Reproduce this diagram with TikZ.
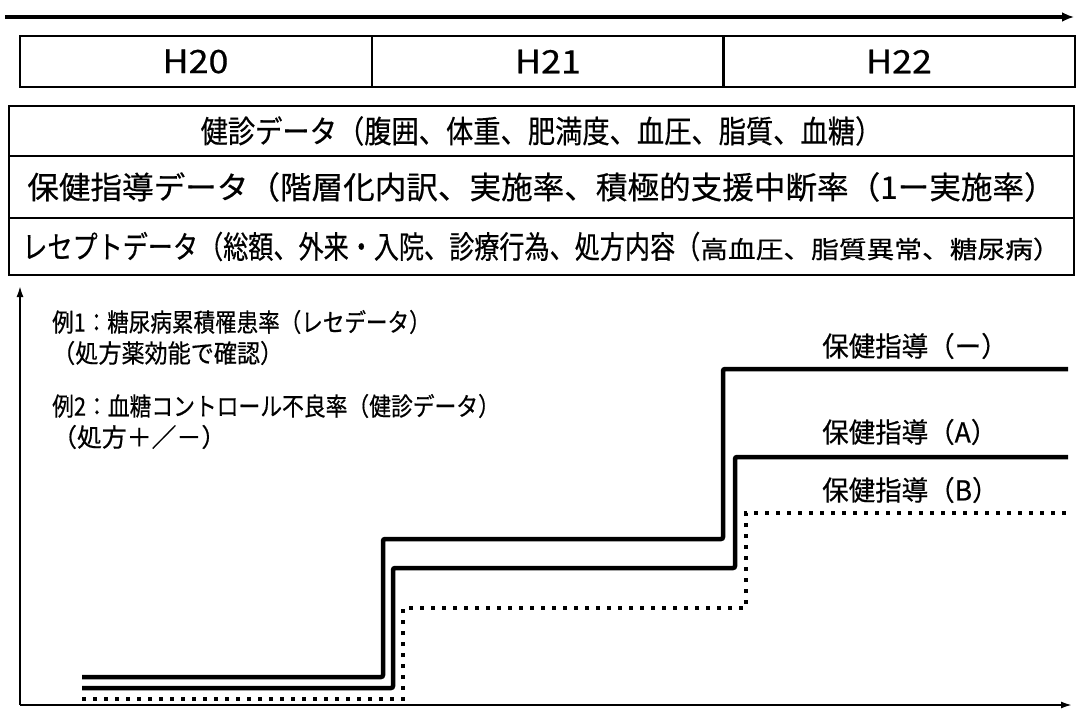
\documentclass[tikz,border=0pt]{standalone}
\usepackage{graphicx}
\usepackage{fontspec}
\setmainfont{Noto Sans CJK JP}[FakeBold=0.5]
\usetikzlibrary{arrows.meta}
\usetikzlibrary{positioning}
\tikzstyle{yearbox} = [
    draw,
    line width=2pt,
    minimum width=352pt,
    minimum height=51pt,
    inner sep=0pt,
    font=\fontsize{28}{30}\selectfont
]
\tikzstyle{databox} = [
    draw,
    line width=2.2pt,
    minimum width=1065pt,
    inner sep=0pt,
    font=\fontsize{27}{30}\selectfont
]
\tikzstyle{note} = [
    anchor=west,
    inner sep=0pt,
    font=\fontsize{22}{24}\selectfont
]
\tikzstyle{guide} = [
    anchor=west,
    inner sep=0pt,
    font=\fontsize{25}{27}\selectfont
]
\tikzstyle{axis} = [
    draw,
    line width=1.8pt,
    -{Latex[length=11pt,width=7pt]}
]
\tikzstyle{lvl} = [draw, line width=4.5pt, rounded corners=2pt]
\tikzstyle{lvldot} = [draw, line width=4pt, dash pattern=on 4pt off 7pt]
\newcommand{\tall}[3]{\scalebox{#1}[#2]{#3}}

\begin{document}
\begin{tikzpicture}[x=1pt, y=-1pt]
\useasboundingbox (0,0) rectangle (1076,709);

% time line
\coordinate (t0) at (5,17);
\coordinate (t1) at (1074,17);
\draw[line width=4pt, -{Latex[length=12pt,width=10pt]}] (t0) -- (t1);

\node[yearbox] (h20) at (195.5,61.5) {\tall{1.28}{1.15}{H20}};
\node[yearbox] (h21) at (548,61.5)   {\tall{1.28}{1.15}{H21}};
\node[yearbox] (h22) at (899,61.5)   {\tall{1.28}{1.15}{H22}};

\node[databox, minimum height=50pt] (kenshin) at (541.5,131)   {\tall{1.01}{1.15}{健診データ（腹囲、体重、肥満度、血圧、脂質、血糖）}};
\node[databox, minimum height=62pt] (shido)   at (541.5,187)   {\tall{1.17}{1.15}{保健指導データ（階層化内訳、実施率、積極的支援中断率（1ー実施率）}};
\node[databox, minimum height=57pt] (rece)    at (541.5,246.5) {\tall{0.93}{1.15}{レセプトデータ（総額、外来・入院、診療行為、処方内容（}\tall{1.32}{1.15}{\fontsize{21}{22}\selectfont 高血圧、脂質異常、糖尿病）}};

% axes
\coordinate (org) at (20,705);
\coordinate (ytop) at (20,286);
\coordinate (xend) at (1072,705);
\draw[axis] (org) -- (ytop);
\draw[axis] (org) -- (xend);

\node[note] (ex1)  at (52,322) {\tall{0.98}{1.15}{例1：糖尿病累積罹患率（レセデータ）}};
\node[note] (ex1b) at (52,353) {\tall{1.05}{1.15}{（処方薬効能で確認）}};
\node[note] (ex2)  at (52,406) {\tall{0.99}{1.15}{例2：血糖コントロール不良率（健診データ）}};
\node[note] (ex2b) at (52,437) {\tall{1.13}{1.15}{（処方＋／－）}};

\node[guide] (gnone) at (822,346) {\tall{1.06}{1.1}{保健指導（ー）}};
\node[guide] (ga)    at (822,432) {\tall{1.06}{1.1}{保健指導（A）}};
\node[guide] (gb)    at (822,490) {\tall{1.06}{1.1}{保健指導（B）}};

% levels
\draw[lvl] (82,677) -- (383,677) -- (383,539) -- (723,539) -- (723,369) -- (1068,369);
\draw[lvl] (82,688) -- (393,688) -- (393,568) -- (735,568) -- (735,457) -- (1068,457);
\draw[lvldot] (82,699) -- (403,699) -- (403,608) -- (746,608) -- (746,513) -- (1068,513);

\end{tikzpicture}
\end{document}
